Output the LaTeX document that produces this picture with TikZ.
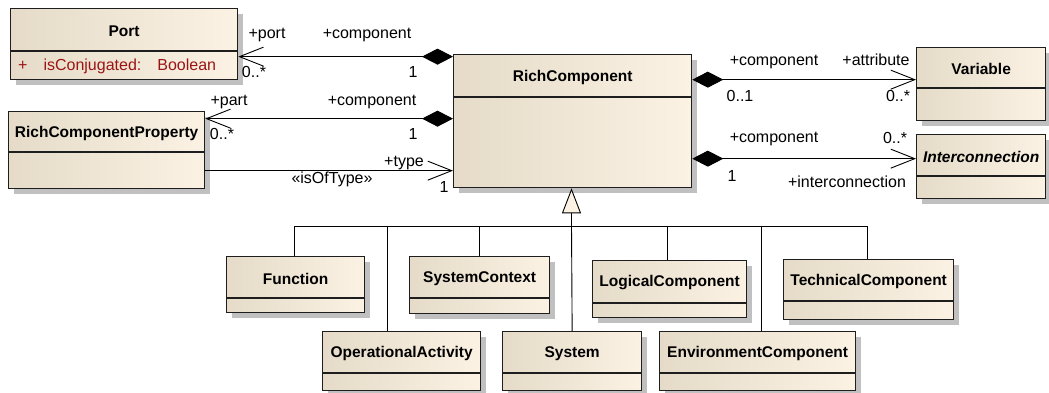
\documentclass[tikz,border=0pt]{standalone}
\usepackage{fontspec}
\setmainfont{Liberation Sans}
\usepackage{tikz}
\usetikzlibrary{arrows.meta, shadows, calc}
\definecolor{ClsLeft}{RGB}{229,219,200}
\definecolor{ClsRight}{RGB}{251,242,228}
\definecolor{ClsShadow}{RGB}{192,192,192}
\definecolor{ClsLine}{RGB}{30,30,30}
\definecolor{AttrRed}{RGB}{155,20,20}

\begin{document}
\begin{tikzpicture}[x=1pt, y=-1pt,
      cls/.style={rectangle, draw=ClsLine, line width=1.3pt, anchor=north west,
                  left color=ClsLeft, right color=ClsRight, inner sep=0pt,
                  drop shadow={shadow xshift=5pt, shadow yshift=-5pt,
                               fill=ClsShadow, opacity=1}},
      sep/.style={draw=ClsLine, line width=1.3pt},
      ttl/.style={font=\fontsize{15.5}{18}\selectfont\bfseries, inner sep=0pt},
      lbl/.style={font=\fontsize{16}{18}\selectfont, inner sep=0pt, anchor=base},
      assoc/.style={line width=0.9pt},
      comp/.style={assoc, {Straight Barb[length=24pt, width=19pt]}-{Diamond[length=31pt, width=16pt]}},
      nav/.style={assoc, -{Straight Barb[length=24pt, width=19pt]}},
      tree/.style={line width=0.9pt},
      gen/.style={line width=0.9pt, -{Triangle[length=25pt, width=19pt, fill=ClsRight]}}
    ]
    \useasboundingbox (0,0) rectangle (1049,392);

    % Classes: name / left / top / width / height / separator / title
    \foreach \nm/\x/\y/\bw/\bh/\bd/\txt in {
      port/10/8/227/71/43/Port,
      rcp/8/111/196/77/41/RichComponentProperty,
      rc/453/54/238/133/43/RichComponent,
      var/916/47/129/73/41/Variable,
      inter/916/134/129/64/42/{\itshape Interconnection},
      func/226/256/138/56/42/Function,
      sysctx/409/256/140/57/42/SystemContext,
      logic/592/260/154/57/43/LogicalComponent,
      tech/783/259/170/60/42/TechnicalComponent,
      opact/322/331/158/59/42/OperationalActivity,
      sys/502/331/139/59/42/System,
      env/659/331/196/59/42/EnvironmentComponent
    }{
      \node[cls, minimum width=\bw, minimum height=\bh] (\nm) at (\x,\y) {};
      \draw[sep] ([yshift=-\bd pt]\nm.north west) -- ([yshift=-\bd pt]\nm.north east);
      \node[ttl, yshift=-1.5pt] (\nm-t) at ($(\nm.north)!0.5!([yshift=-\bd pt]\nm.north)$) {\txt};
    }

    % Port attribute
    \node[font=\fontsize{16}{18}\selectfont, text=AttrRed, anchor=base west, inner sep=0pt]
          (port-a) at (18,70) {+\hspace{16pt}isConjugated:\hspace{16pt}Boolean};

    % Compositions
    \draw[comp] ([yshift=-12.5pt]port.east) -- ([yshift=-12.5pt]port.east -| rc.west);
    \draw[comp] ([yshift=31.5pt]rcp.east) -- ([yshift=31.5pt]rcp.east -| rc.west);
    \draw[comp] ([yshift=4.5pt]var.west) -- ([yshift=4.5pt]var.west -| rc.east);
    \draw[comp] ([yshift=8pt]inter.west) -- ([yshift=8pt]inter.west -| rc.east);

    % isOfType
    \draw[nav] ([yshift=-20.5pt]rcp.east) -- ([yshift=-20.5pt]rcp.east -| rc.west);

    % Role names and multiplicities
    \foreach \nm/\x/\y/\txt in {
      l-port/267/38/+port, l-pcomp/367/38/+component,
      m-port/254/77/0..*, m-pcomp/413/77/1,
      l-part/229/105/+part, l-rcomp/372/105/+component,
      m-part/222/139/0..*, m-rcomp/413/139/1,
      l-type/404/166/+type, m-type/444/192/1,
      l-oftype/332/183/«isOfType»,
      l-vcomp/774/65/+component, l-attr/876/65/+attribute,
      m-vcomp/740/101/0..1, m-attr/898/101/0..*,
      l-icomp/774/142/+component, m-inter/895/143/0..*,
      m-icomp/732/181/1, l-inter/847/187/+interconnection
    }{
      \node[lbl] (\nm) at (\x,\y) {\txt};
    }

    % Generalization tree
    \coordinate (hub) at (571.5,226);
    \foreach \c/\dx in {func/-1, sysctx/0, logic/-2, tech/-1, opact/-14, env/4}{
      \draw[tree] ([xshift=\dx pt]\c.north) |- (hub);
    }
    \draw[tree] (sys.north) -- (hub);
    \draw[gen] (hub) -- (rc.south -| hub);
  \end{tikzpicture}
\end{document}
